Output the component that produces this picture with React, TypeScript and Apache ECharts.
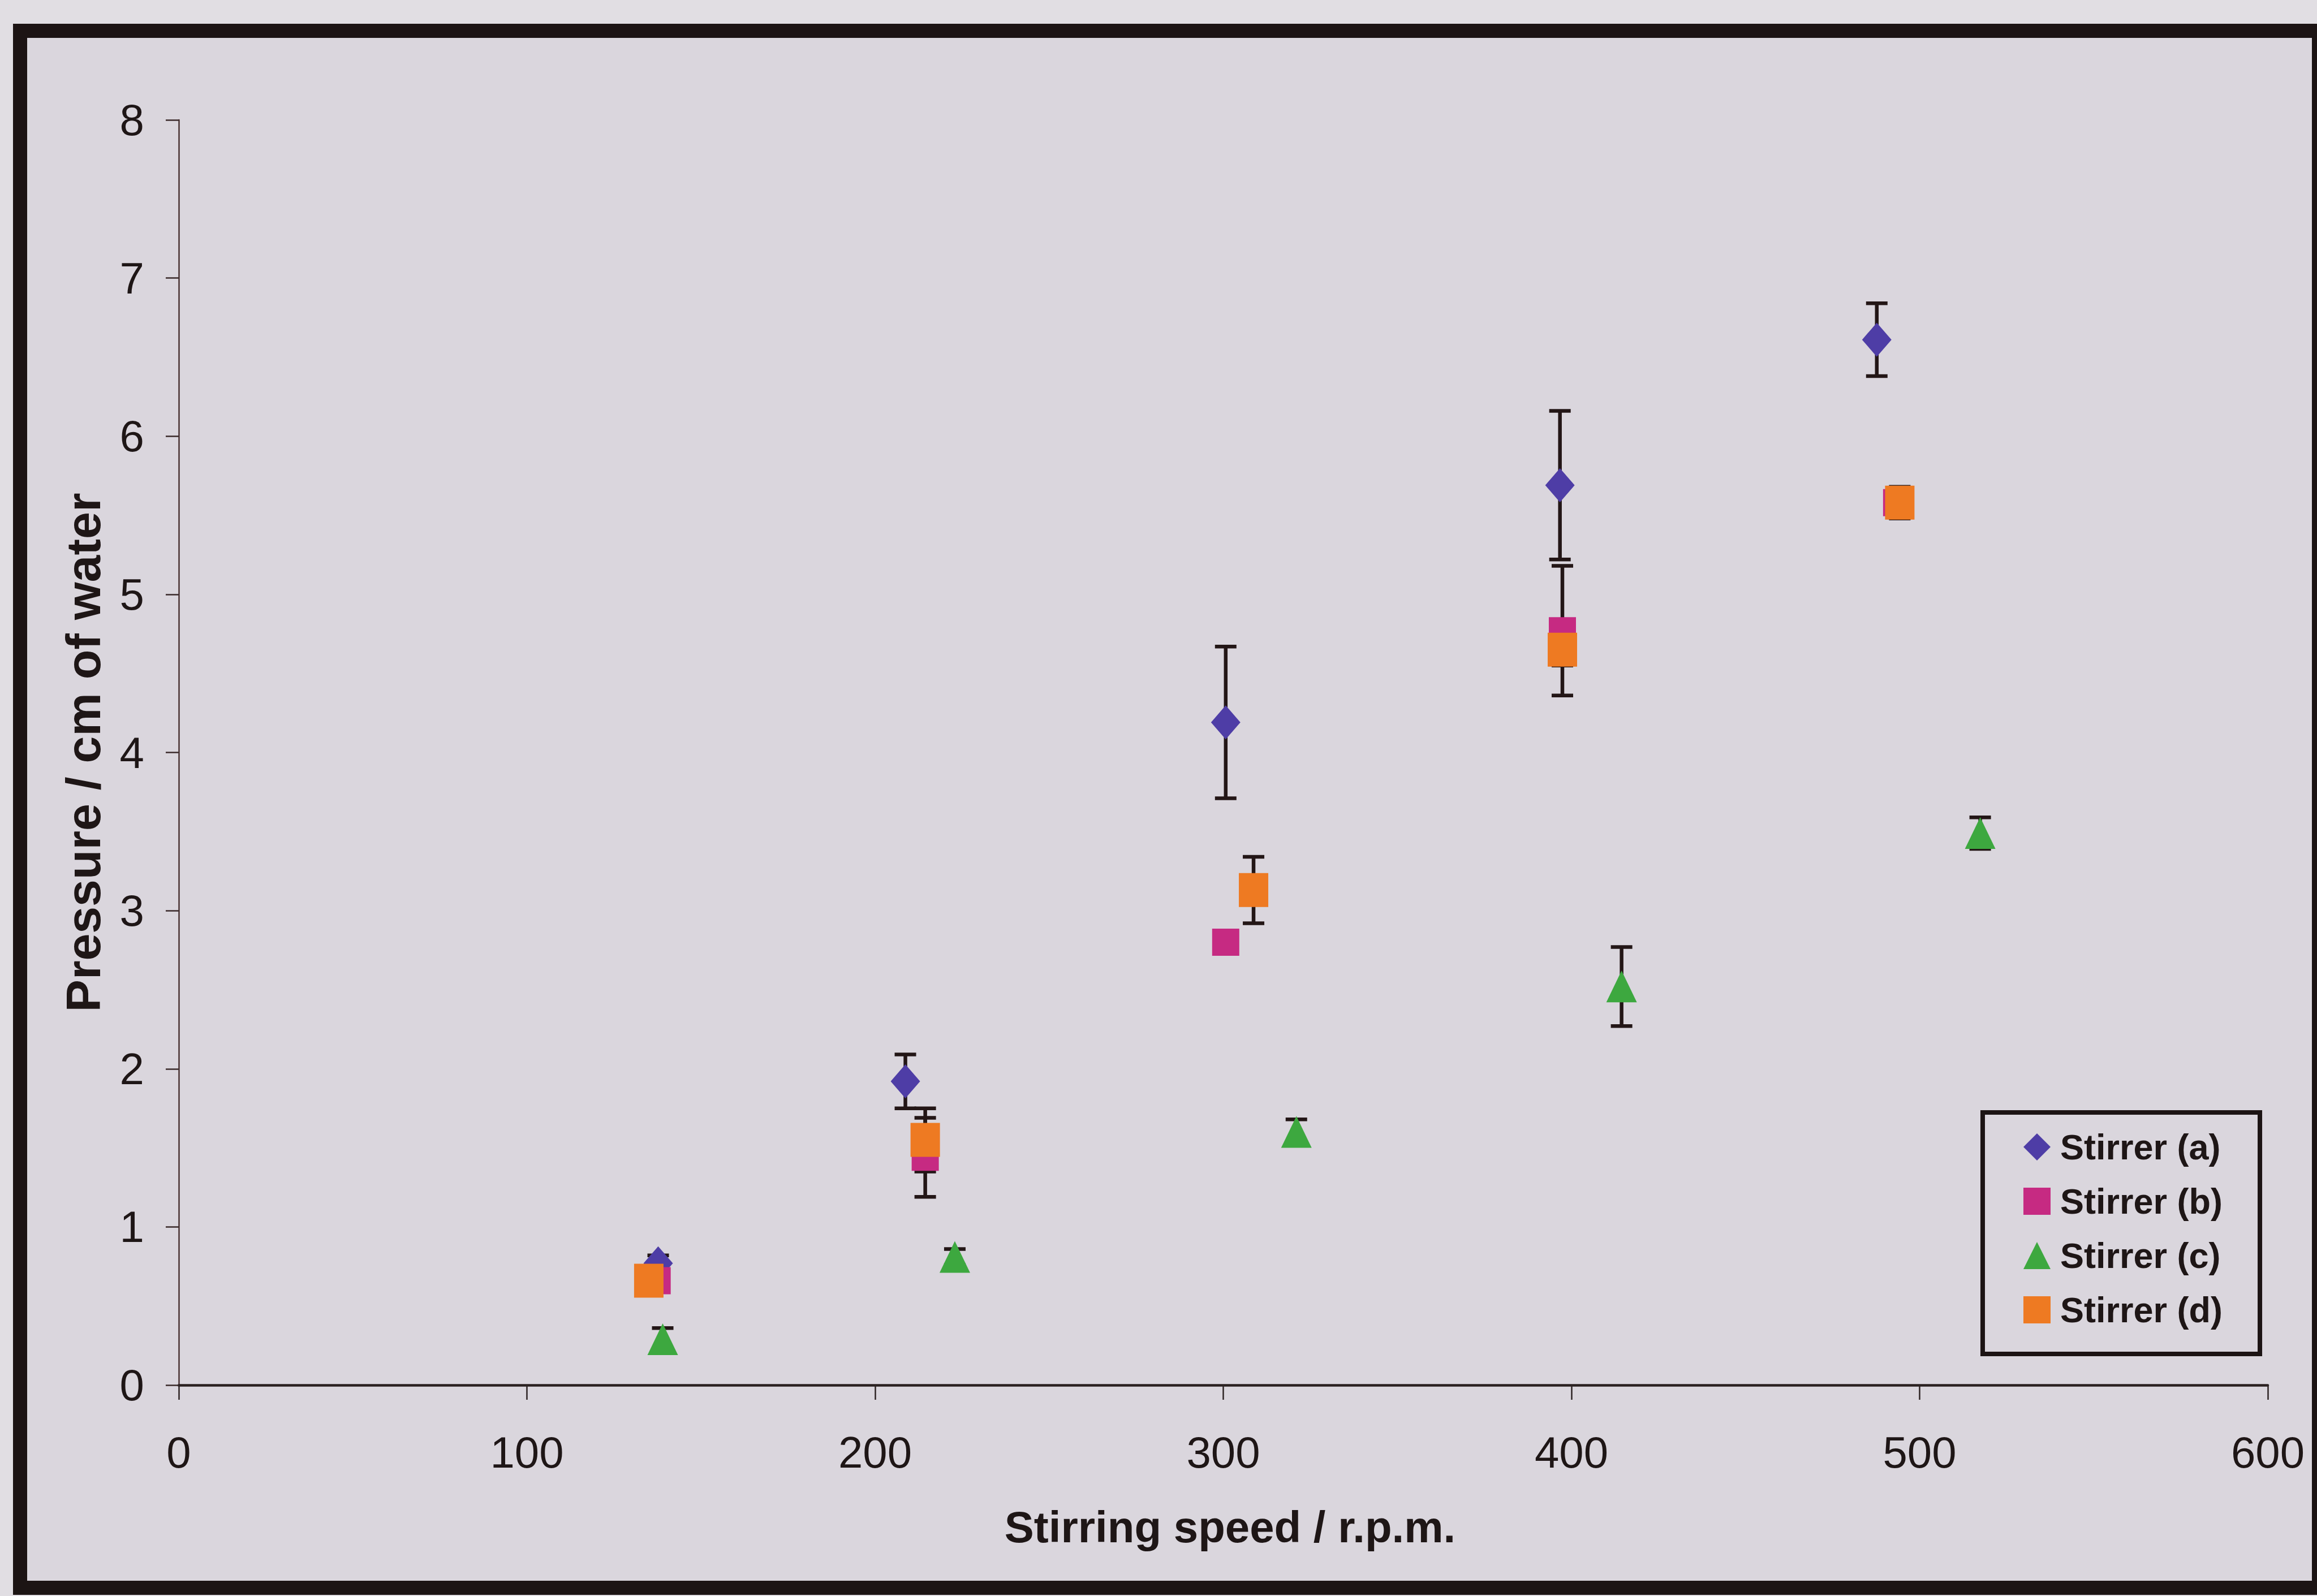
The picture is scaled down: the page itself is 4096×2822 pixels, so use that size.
import React, { useEffect, useRef } from "react";
import * as echarts from "echarts";

// ---- data ----
const seriesNames = ["Stirrer (a)", "Stirrer (b)", "Stirrer (c)", "Stirrer (d)"];
const seriesIcons = ["diamond", "rect", "triangle", "rect"];
const seriesColors = ["#4E3DA6", "#C62A82", "#3DA83F", "#EE7A22"];

const speedA = [137.7, 208.7, 300.7, 396.7, 487.7];
const pressureA = [0.77, 1.92, 4.19, 5.69, 6.61];
const errorA = [0.05, 0.17, 0.48, 0.47, 0.23];

const speedB = [137.4, 214.4, 300.7, 397.4, 493.4];
const pressureB = [0.66, 1.44, 2.8, 4.77, 5.58];
const errorB = [0.05, 0.25, 0.05, 0.41, 0.08];

const speedC = [139.0, 222.9, 321.0, 414.4, 517.4];
const pressureC = [0.29, 0.81, 1.6, 2.52, 3.49];
const errorC = [0.07, 0.05, 0.08, 0.25, 0.1];

const speedD = [135.0, 214.4, 308.7, 397.4, 494.3];
const pressureD = [0.66, 1.55, 3.13, 4.65, 5.58];
const errorD = [0.05, 0.2, 0.21, 0.1, 0.1];

const xAxisRange = [0, 600];
const xAxisStep = 100;
const yAxisRange = [0, 8];
const yAxisStep = 1;

const xTitle = "Stirring speed / r.p.m.";
const yTitle = "Pressure / cm of water";

const INK = "#1e1616";
const FONT = "'Liberation Sans', Arial, sans-serif";

function zip3(xs: number[], ys: number[], es: number[]) {
  return xs.map((x, i) => [x, ys[i], es[i]]);
}

export default function App() {
  const ref = useRef<HTMLDivElement>(null);

  useEffect(() => {
    if (!ref.current) return;
    const chart = echarts.init(ref.current, undefined, { renderer: "svg" });

    const all = [
      zip3(speedA, pressureA, errorA),
      zip3(speedB, pressureB, errorB),
      zip3(speedC, pressureC, errorC),
      zip3(speedD, pressureD, errorD),
    ];
    const symbolSizes: any[] = [[52, 60], [48, 48], [54, 56], [52, 60]];

    const errorSeries = all.map((d, i) => ({
      type: "custom",
      name: seriesNames[i] + " error",
      data: d,
      dimensions: ["x", "y", "err"],
      encode: { x: 0, y: 1 },
      z: 2,
      silent: true,
      renderItem: (_params: any, api: any) => {
        const x = api.value(0);
        const y = api.value(1);
        const e = api.value(2);
        const top = api.coord([x, y + e]);
        const bot = api.coord([x, y - e]);
        const hw = 19;
        const style = { stroke: "#231616", lineWidth: 6.5 };
        return {
          type: "group",
          children: [
            { type: "line", shape: { x1: top[0], y1: top[1], x2: bot[0], y2: bot[1] }, style },
            { type: "line", shape: { x1: top[0] - hw, y1: top[1], x2: top[0] + hw, y2: top[1] }, style },
            { type: "line", shape: { x1: bot[0] - hw, y1: bot[1], x2: bot[0] + hw, y2: bot[1] }, style },
          ],
        };
      },
    }));

    const scatterSeries = all.map((d, i) => ({
      type: "scatter",
      name: seriesNames[i],
      data: d.map((p) => [p[0], p[1]]),
      symbol: seriesIcons[i],
      symbolSize: symbolSizes[i],
      itemStyle: { color: seriesColors[i], opacity: 1 },
      z: 3,
    }));

    chart.setOption({
      animation: false,
      backgroundColor: "#E1DEE3",
      graphic: [
        {
          type: "rect",
          z: -100,
          silent: true,
          shape: { x: 35.5, y: 54.5, width: 4064, height: 2753 },
          style: { fill: "#DAD6DD", stroke: "#1c1414", lineWidth: 25 },
        },
      ],
      grid: { left: 316, right: 87, top: 212, bottom: 373, containLabel: false },
      xAxis: {
        type: "value",
        min: xAxisRange[0],
        max: xAxisRange[1],
        interval: xAxisStep,
        name: xTitle,
        nameLocation: "middle",
        nameGap: 212,
        nameTextStyle: { fontSize: 78, fontWeight: "bold", fontFamily: FONT, color: INK, padding: [0, 0, 0, 24] },
        axisLine: { show: true, onZero: false, lineStyle: { color: "#2a2020", width: 4.5 } },
        axisTick: { show: true, inside: false, length: 26, lineStyle: { color: "#2e2424", width: 2.5 } },
        axisLabel: { fontSize: 78, fontFamily: FONT, color: INK, margin: 80 },
        splitLine: { show: false },
      },
      yAxis: {
        type: "value",
        min: yAxisRange[0],
        max: yAxisRange[1],
        interval: yAxisStep,
        name: yTitle,
        nameLocation: "middle",
        nameGap: 126,
        nameTextStyle: { fontSize: 86, fontWeight: "bold", fontFamily: FONT, color: INK },
        axisLine: { show: true, onZero: false, lineStyle: { color: "#4a3434", width: 2.5 } },
        axisTick: { show: true, inside: false, length: 23, lineStyle: { color: "#3a2a2a", width: 2.5 } },
        axisLabel: { fontSize: 78, fontFamily: FONT, color: INK, margin: 61 },
        splitLine: { show: false },
      },
      legend: {
        orient: "vertical",
        left: 3505,
        top: 1967,
        padding: [28, 66, 45, 72],
        itemWidth: 48,
        itemHeight: 48,
        itemGap: 30,
        backgroundColor: "#DAD6DD",
        borderColor: "#1c1414",
        borderWidth: 8,
        selectedMode: false,
        textStyle: {
          fontSize: 63,
          fontWeight: "bold",
          fontFamily: FONT,
          color: INK,
          lineHeight: 66,
          padding: [0, 0, 0, 12],
        },
        data: seriesNames.map((n, i) => ({ name: n, icon: seriesIcons[i] })),
      },
      series: [...errorSeries, ...scatterSeries],
    });

    return () => chart.dispose();
  }, []);

  return (
    <div
      ref={ref}
      style={{ position: "fixed", left: 0, top: 0, width: 4096, height: 2822 }}
    />
  );
}
